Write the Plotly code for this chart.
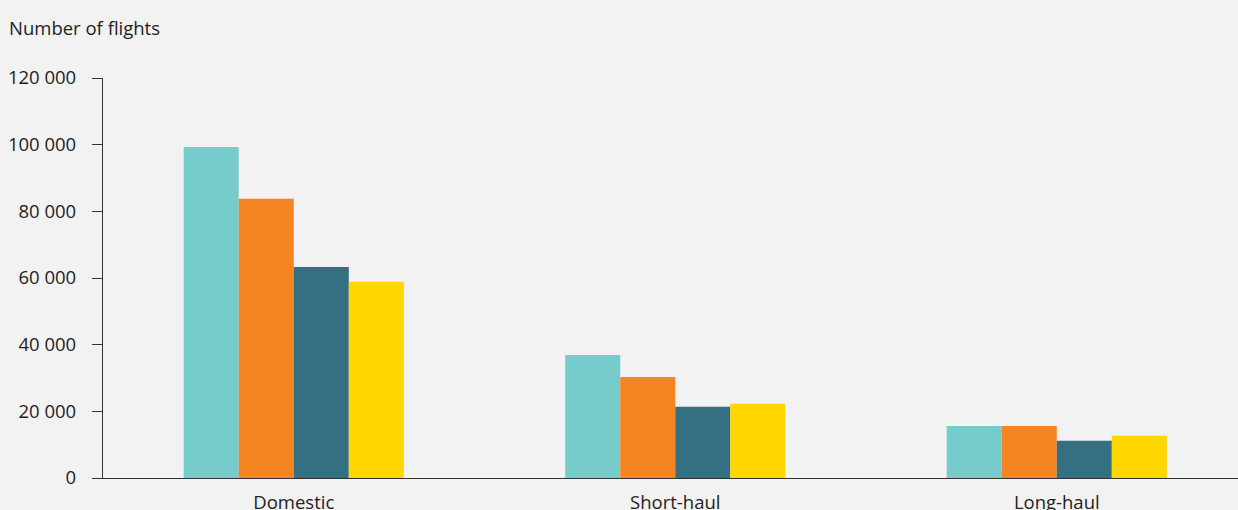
import plotly.graph_objects as go

categories = ["Domestic", "Short-haul", "Long-haul"]
series_names = ["Series 1", "Series 2", "Series 3", "Series 4"]
series_values = [
    [99300, 36900, 15600],
    [83800, 30300, 15600],
    [63300, 21400, 11200],
    [58900, 22300, 12700],
]
colors = ["#76cccb", "#f58423", "#356f82", "#ffd600"]
y_ticks = [0, 20000, 40000, 60000, 80000, 100000, 120000]

fig = go.Figure()
for name, vals, col in zip(series_names, series_values, colors):
    fig.add_trace(go.Bar(x=categories, y=vals, name=name,
                         marker=dict(color=col, line=dict(width=0))))

font_family = "Open Sans, Noto Sans, sans-serif"
fs = 18.5
fig.update_layout(
    width=1238, height=510,
    barmode="group", bargap=0.423, bargroupgap=0,
    paper_bgcolor="#f2f2f2", plot_bgcolor="#f2f2f2",
    margin=dict(l=103, r=0, t=78, b=32),
    showlegend=False,
    separators=". ",
    font=dict(family=font_family, size=fs, color="#222222"),
    xaxis=dict(range=[-0.5, 2.475], showline=True, linecolor="#333333", linewidth=1.2,
               ticks="", showgrid=False, ticklabelstandoff=8, automargin=False,
               tickfont=dict(size=fs)),
    yaxis=dict(range=[0, 120000], tickvals=y_ticks, tickformat=",d",
               showline=True, linecolor="#333333", linewidth=1.2,
               ticks="outside", ticklen=10, tickcolor="#333333",
               showgrid=False, zeroline=False, ticklabelstandoff=12, automargin=False,
               tickfont=dict(size=fs)),
    annotations=[dict(text="Number of flights", xref="paper", yref="paper",
                      x=-96/1135, y=1 + 51/400, xanchor="left", yanchor="middle",
                      showarrow=False, font=dict(size=fs))],
)

fig.write_html("out.html", config={"displayModeBar": False},
               post_script="document.body.style.margin='0';document.body.style.background='#f2f2f2';")
